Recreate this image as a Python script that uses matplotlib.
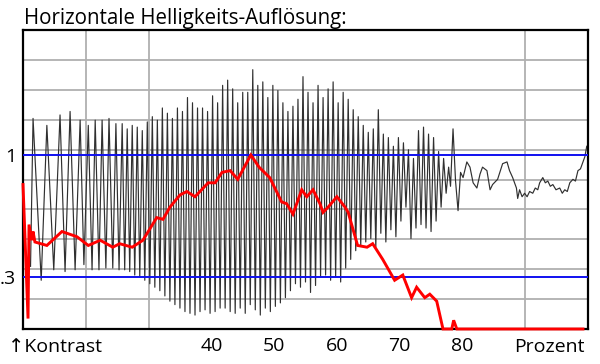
import matplotlib
matplotlib.use("Agg")
import matplotlib.pyplot as plt
import numpy as np

# --- data (x = Prozent, y = Kontrast) ---
title = "Horizontale Helligkeits-Auflösung:"
x_ticks = [40, 50, 60, 70, 80]
x_tick_labels = ["40", "50", "60", "70", "80"]
y_ticks = [0.3, 1.0]
y_tick_labels = [".3", "1"]
ref_levels = [1.0, 0.3]

# measured signal: alternating extremes of the oscillation, then the noisy tail
wave_x = [11.2, 11.6, 12.9, 13.8, 14.9, 15.9, 16.7, 17.5, 18.3, 19.1, 19.7, 20.4, 21.0, 21.5,
          22.1, 22.6, 23.2, 23.7, 24.3, 24.8, 25.3,
          25.8, 26.2, 26.6, 27.0, 27.4, 27.8, 28.2, 28.6, 29.0, 29.4, 29.8, 30.2, 30.6, 31.0,
          31.4, 31.8, 32.2, 32.6, 33.0, 33.4, 33.8, 34.2, 34.6, 35.0, 35.4, 35.8, 36.2, 36.6,
          37.0, 37.4, 37.8, 38.2, 38.6, 39.0, 39.4, 39.8, 40.2, 40.6, 41.0, 41.4,
          41.8, 42.2, 42.6, 43.0, 43.4, 43.8, 44.2, 44.6, 45.0, 45.4, 45.8, 46.2, 46.6, 47.0,
          47.4, 47.8, 48.2, 48.6, 49.0, 49.4, 49.8, 50.2, 50.6, 51.0, 51.4, 51.8, 52.2, 52.6,
          53.0, 53.4, 53.8, 54.2, 54.6, 55.0, 55.4, 55.8, 56.2, 56.6, 57.0, 57.4,
          57.8, 58.2, 58.6, 59.0, 59.4, 59.8, 60.2, 60.6, 61.0, 61.4, 61.8, 62.2, 62.6, 63.0,
          63.4, 63.8, 64.2, 64.6, 65.0, 65.4, 65.8, 66.2, 66.6, 67.0, 67.4, 67.8, 68.2, 68.6,
          69.0, 69.4, 69.8, 70.2, 70.6, 71.0, 71.4, 71.8, 72.2, 72.6,
          73.0, 73.4, 73.8, 74.2, 74.6, 75.0, 75.4, 75.8, 76.2, 76.6, 77.0, 77.4, 77.8, 78.1,
          78.5, 78.9, 79.3, 79.7,
          80.1, 80.7, 81.2, 81.7, 82.3, 82.8, 83.2, 83.9, 84.4, 84.8, 85.6, 86.4, 87.1, 87.5,
          88.0, 88.6, 88.8, 89.1, 89.5, 89.9, 90.3, 90.7, 91.2, 91.6, 92.0, 92.3, 92.8, 93.2,
          93.6, 94.0, 94.4, 94.9, 95.5, 95.9, 96.3, 96.7, 97.1, 97.6, 98.0, 98.4, 98.8, 99.2,
          99.5, 99.8]
wave_y = [0.36, 1.21, 0.28, 1.17, 0.34, 1.23, 0.33, 1.25, 0.34, 1.20, 0.37, 1.17, 0.34, 1.20,
          0.34, 1.20, 0.35, 1.21, 0.35, 1.18, 0.34,
          1.18, 0.34, 1.15, 0.33, 1.17, 0.31, 1.16, 0.30, 1.14, 0.28, 1.19, 0.26, 1.22, 0.24,
          1.20, 0.22, 1.27, 0.19, 1.24, 0.16, 1.21, 0.14, 1.27, 0.12, 1.25, 0.10, 1.33, 0.09,
          1.30, 0.08, 1.27, 0.10, 1.27, 0.11, 1.25, 0.09, 1.34, 0.10, 1.30, 0.12,
          1.40, 0.12, 1.43, 0.10, 1.38, 0.09, 1.30, 0.12, 1.36, 0.09, 1.36, 0.14, 1.49, 0.11,
          1.40, 0.08, 1.42, 0.12, 1.33, 0.10, 1.40, 0.13, 1.37, 0.15, 1.30, 0.18, 1.25, 0.22,
          1.28, 0.26, 1.32, 0.24, 1.45, 0.27, 1.36, 0.21, 1.30, 0.25, 1.40, 0.30,
          1.33, 0.31, 1.38, 0.28, 1.42, 0.30, 1.30, 0.27, 1.36, 0.35, 1.32, 0.40, 1.26, 0.45,
          1.22, 0.48, 1.17, 0.50, 1.13, 0.52, 1.15, 0.47, 1.26, 0.55, 1.12, 0.50, 1.10, 0.57,
          1.05, 0.53, 1.10, 0.62, 1.07, 0.70, 1.03, 0.52, 0.98, 0.58,
          1.14, 0.60, 1.16, 0.58, 1.12, 0.56, 1.10, 0.62, 1.02, 0.70, 0.98, 0.78, 0.93, 0.82,
          1.15, 0.85, 0.68, 0.90,
          0.87, 0.96, 0.93, 0.84, 0.81, 0.89, 0.93, 0.91, 0.80, 0.83, 0.86, 0.95, 0.96, 0.91,
          0.87, 0.81, 0.75, 0.80, 0.76, 0.78, 0.76, 0.79, 0.78, 0.81, 0.80, 0.84, 0.87, 0.84,
          0.85, 0.82, 0.83, 0.80, 0.81, 0.78, 0.80, 0.79, 0.84, 0.86, 0.85, 0.91, 0.92, 0.96,
          0.99, 1.05]

# measured contrast curve (red)
kontrast_x = [10.0, 10.8, 10.96, 11.4, 11.6, 11.9, 13.8, 16.2, 18.6, 20.4, 22.3, 24.3, 25.4,
              27.4, 29.1, 31.3, 32.3, 33.4, 35.0, 36.1, 37.4, 39.5, 40.6, 41.7, 43.0, 44.2,
              46.3, 47.6, 49.3, 51.2, 52.0, 53.0, 54.4, 55.2, 56.2, 57.3, 57.8, 58.6, 60.0,
              61.3, 61.8, 63.3, 64.8, 65.7, 67.3, 69.2, 70.5, 71.9, 72.7, 74.0, 74.8, 75.9,
              76.9, 78.3, 78.6, 79.1, 99.2]
kontrast_y = [0.83, 0.06, 0.60, 0.51, 0.56, 0.50, 0.48, 0.56, 0.53, 0.48, 0.51, 0.47, 0.49,
              0.47, 0.51, 0.64, 0.63, 0.70, 0.77, 0.79, 0.76, 0.84, 0.84, 0.90, 0.91, 0.86,
              1.00, 0.93, 0.87, 0.73, 0.72, 0.66, 0.80, 0.76, 0.80, 0.72, 0.67, 0.70, 0.76,
              0.70, 0.67, 0.48, 0.47, 0.49, 0.40, 0.28, 0.31, 0.18, 0.24, 0.18, 0.20, 0.16,
              0.0, 0.0, 0.05, 0.0, 0.0]

x_min, x_max = 10, 100
y_min, y_max = 0.0, 1.718

font = ["Open Sans", "DejaVu Sans"]
plt.rcParams["font.family"] = font

fig = plt.figure(figsize=(6.0, 3.64), dpi=100)
ax = fig.add_axes([23 / 600, 35 / 364, 565 / 600, 299 / 364])

ax.set_xlim(x_min, x_max)
ax.set_ylim(y_min, y_max)

# grid on minor ticks
ax.set_xticks(np.arange(20, 100, 10), minor=True)
ax.set_yticks(np.linspace(y_min, y_max, 11)[1:-1], minor=True)
ax.grid(which="minor", color="#b0b0b0", linewidth=1.3)
ax.grid(which="major", visible=False)
ax.set_axisbelow(True)

ax.set_xticks(x_ticks, x_tick_labels)
ax.set_yticks(y_ticks, y_tick_labels)
ax.tick_params(which="both", length=0)
ax.tick_params(axis="x", labelsize=14, pad=6)
ax.tick_params(axis="y", labelsize=14, pad=5)

for s in ax.spines.values():
    s.set_linewidth(1.6)
    s.set_color("black")

ax.plot(wave_x, wave_y, color="#303030", linewidth=0.85, zorder=2)
for lvl in ref_levels:
    ax.axhline(lvl, color="#1010f0", linewidth=1.4, zorder=3)
ax.plot(kontrast_x, kontrast_y, color="#ff0000", linewidth=2.1, zorder=5,
        clip_on=False, solid_joinstyle="miter")

fig.text(24 / 600, 1 - 24 / 364, title, fontsize=14.8, ha="left", va="baseline")
fig.text(8 / 600, 1 - 352 / 364, "↑Kontrast", fontsize=14, ha="left", va="baseline")
fig.text(585 / 600, 1 - 352 / 364, "Prozent", fontsize=14, ha="right", va="baseline")

fig.savefig("out.png", dpi=100)
